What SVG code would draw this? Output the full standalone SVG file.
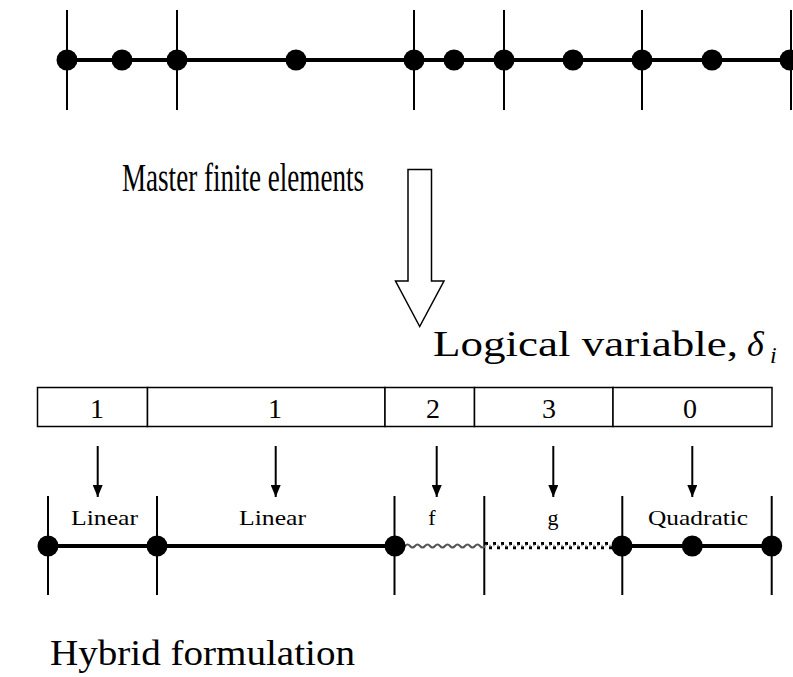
<svg xmlns="http://www.w3.org/2000/svg" width="793" height="677" viewBox="0 0 793 677">
<style>
text{font-family:"Liberation Serif","Times New Roman",serif;fill:#000}
.big{font-size:36px}
.num{font-size:28px;text-anchor:middle}
.lab{font-size:22px}
.v{stroke:#000;stroke-width:2;fill:none}
.main{stroke:#000;stroke-width:4;fill:none}
.dot{fill:#000}
.cell{fill:#fff;stroke:#000;stroke-width:1.5}
</style>
<defs>
<marker id="ah" viewBox="0 0 12 10" refX="12" refY="5" markerWidth="12" markerHeight="10" markerUnits="userSpaceOnUse" orient="auto">
<path d="M0,0 L12,5 L0,10 Z" fill="#000"/>
</marker>
</defs>
<rect width="793" height="677" fill="#fff"/>

<g id="master-mesh">
<line class="v" x1="67" y1="10" x2="67" y2="110"/>
<line class="v" x1="177" y1="10" x2="177" y2="110"/>
<line class="v" x1="414" y1="10" x2="414" y2="110"/>
<line class="v" x1="504" y1="10" x2="504" y2="110"/>
<line class="v" x1="642" y1="10" x2="642" y2="110"/>
<line class="v" x1="791" y1="10" x2="791" y2="110"/>
<line class="main" x1="67" y1="60" x2="793" y2="60"/>
<circle class="dot" cx="67" cy="60" r="10.5"/>
<circle class="dot" cx="122" cy="60" r="10.5"/>
<circle class="dot" cx="177" cy="60" r="10.5"/>
<circle class="dot" cx="296" cy="60" r="10.5"/>
<circle class="dot" cx="414" cy="60" r="10.5"/>
<circle class="dot" cx="454" cy="60" r="10.5"/>
<circle class="dot" cx="504" cy="60" r="10.5"/>
<circle class="dot" cx="573" cy="60" r="10.5"/>
<circle class="dot" cx="642" cy="60" r="10.5"/>
<circle class="dot" cx="712" cy="60" r="10.5"/>
<circle class="dot" cx="790" cy="60" r="10.5"/>
</g>

<g id="title-master">
<text style="font-size:40px" x="122" y="191" textLength="242" lengthAdjust="spacingAndGlyphs">Master finite elements</text>
</g>

<g id="big-arrow">
<path d="M408,169.5 L431.5,169.5 L431.5,281 L444,281 L419.7,326.5 L395.5,281 L408,281 Z" fill="#fff" stroke="#000" stroke-width="1.5"/>
</g>

<g id="title-logical">
<text class="big" x="433" y="356" textLength="305" lengthAdjust="spacingAndGlyphs">Logical variable,</text>
<text class="big" x="747" y="356" font-style="italic">δ</text>
<text x="770" y="363" font-style="italic" style="font-size:24px">i</text>
</g>

<g id="logical-table">
<rect class="cell" x="37.5" y="387.5" width="110" height="39"/>
<rect class="cell" x="147.5" y="387.5" width="237.5" height="39"/>
<rect class="cell" x="385" y="387.5" width="89.5" height="39"/>
<rect class="cell" x="474.5" y="387.5" width="138.5" height="39"/>
<rect class="cell" x="613" y="387.5" width="159" height="39"/>
<text class="num" x="97" y="418">1</text>
<text class="num" x="275" y="418">1</text>
<text class="num" x="433" y="418">2</text>
<text class="num" x="549" y="418">3</text>
<text class="num" x="690" y="418">0</text>
</g>

<g id="connectors">
<line class="v" x1="97.7" y1="446" x2="97.7" y2="497" marker-end="url(#ah)"/>
<line class="v" x1="275.7" y1="446" x2="275.7" y2="497" marker-end="url(#ah)"/>
<line class="v" x1="436.7" y1="446" x2="436.7" y2="497" marker-end="url(#ah)"/>
<line class="v" x1="553.3" y1="446" x2="553.3" y2="497" marker-end="url(#ah)"/>
<line class="v" x1="692.3" y1="446" x2="692.3" y2="497" marker-end="url(#ah)"/>
</g>

<g id="hybrid-mesh">
<line class="v" x1="48" y1="496" x2="48" y2="595"/>
<line class="v" x1="157" y1="496" x2="157" y2="595"/>
<line class="v" x1="394.5" y1="496" x2="394.5" y2="595"/>
<line class="v" x1="484.3" y1="496" x2="484.3" y2="595"/>
<line class="v" x1="622.3" y1="496" x2="622.3" y2="595"/>
<line class="v" x1="771.7" y1="496" x2="771.7" y2="595"/>
<line class="main" x1="48" y1="546" x2="395" y2="546"/>
<line class="main" x1="622" y1="546" x2="772" y2="546"/>
<path d="M395,546 q2.5,-3 5,0 t5,0 t5,0 t5,0 t5,0 t5,0 t5,0 t5,0 t5,0 t5,0 t5,0 t5,0 t5,0 t5,0 t5,0 t5,0 t5,0 t5,0" fill="none" stroke="#555" stroke-width="2"/>
<line x1="485" y1="543.5" x2="622" y2="543.5" stroke="#000" stroke-width="3" stroke-dasharray="3,5"/>
<line x1="489" y1="547.8" x2="622" y2="547.8" stroke="#000" stroke-width="3" stroke-dasharray="3,5"/>
<line x1="485" y1="545.6" x2="622" y2="545.6" stroke="#aaa" stroke-width="1.5" stroke-dasharray="2,2"/>
<circle class="dot" cx="48" cy="546" r="10.5"/>
<circle class="dot" cx="157" cy="546" r="10.5"/>
<circle class="dot" cx="395" cy="546" r="10.5"/>
<circle class="dot" cx="622" cy="546" r="10.5"/>
<circle class="dot" cx="692.3" cy="546" r="10.5"/>
<circle class="dot" cx="771.7" cy="546" r="10.5"/>
<text class="lab" x="71" y="525" textLength="67" lengthAdjust="spacingAndGlyphs">Linear</text>
<text class="lab" x="239" y="525" textLength="67" lengthAdjust="spacingAndGlyphs">Linear</text>
<text class="lab" x="432" y="525" text-anchor="middle">f</text>
<text class="lab" x="553" y="525" text-anchor="middle">g</text>
<text class="lab" x="648" y="525" textLength="100" lengthAdjust="spacingAndGlyphs">Quadratic</text>
</g>

<g id="title-hybrid">
<text class="big" x="50" y="665" textLength="305" lengthAdjust="spacingAndGlyphs">Hybrid formulation</text>
</g>
</svg>
